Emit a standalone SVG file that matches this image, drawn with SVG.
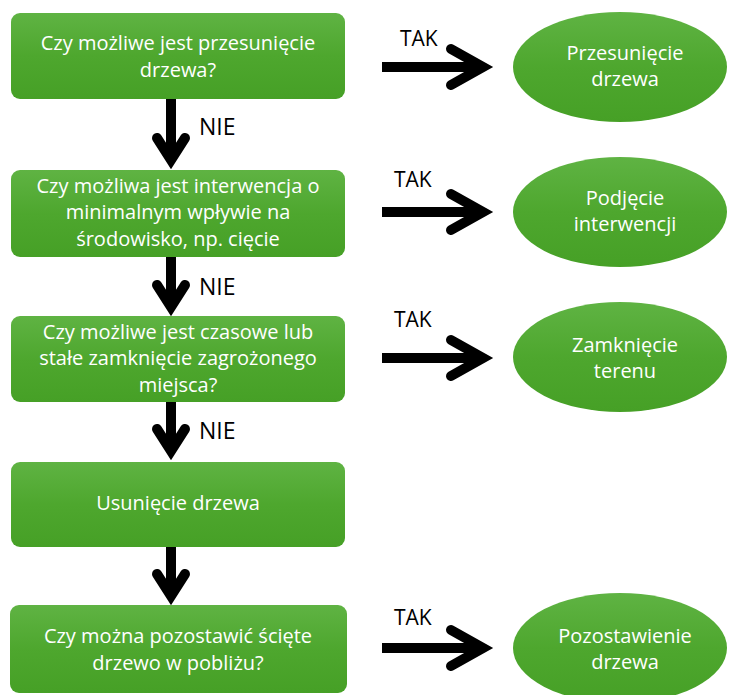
<svg xmlns="http://www.w3.org/2000/svg" width="729" height="695" viewBox="0 0 729 695">
<defs>
<linearGradient id="g" x1="0" y1="0" x2="0" y2="1">
<stop offset="0" stop-color="#5fb343"/>
<stop offset="0.5" stop-color="#4ea72e"/>
<stop offset="1" stop-color="#46a026"/>
</linearGradient>
<style>
.box{fill:url(#g);}
.ell{fill:url(#g);}
.t{font-family:"Open Sans","Liberation Sans",sans-serif;font-size:20px;fill:#ffffff;text-anchor:middle;}
.lbl{font-family:"Open Sans","Liberation Sans",sans-serif;font-size:21px;fill:#000000;}
.nie{font-size:23px;}
.shaft{stroke:#000;stroke-width:10;fill:none;stroke-linecap:butt;}
.head{stroke:#000;stroke-width:10;fill:none;stroke-linecap:round;stroke-linejoin:miter;}
</style>
</defs>
<rect width="729" height="695" fill="#ffffff"/>

<g id="q1">
<rect class="box" x="11" y="13" width="334" height="86" rx="9"/>
<text class="t" x="178" y="50">Czy możliwe jest przesunięcie</text>
<text class="t" x="178" y="77">drzewa?</text>
</g>
<g id="q2">
<rect class="box" x="11" y="170" width="334" height="87" rx="9"/>
<text class="t" x="178" y="193">Czy możliwa jest interwencja o</text>
<text class="t" x="178" y="219">minimalnym wpływie na</text>
<text class="t" x="178" y="246">środowisko, np. cięcie</text>
</g>
<g id="q3">
<rect class="box" x="11" y="316" width="334" height="86" rx="9"/>
<text class="t" x="178" y="339">Czy możliwe jest czasowe lub</text>
<text class="t" x="178" y="365">stałe zamknięcie zagrożonego</text>
<text class="t" x="178" y="392">miejsca?</text>
</g>
<g id="remove">
<rect class="box" x="11" y="462" width="334" height="85" rx="9"/>
<text class="t" x="178" y="510">Usunięcie drzewa</text>
</g>
<g id="q4">
<rect class="box" x="10" y="605" width="337" height="88" rx="9"/>
<text class="t" x="178" y="643">Czy można pozostawić ścięte</text>
<text class="t" x="178" y="670">drzewo w pobliżu?</text>
</g>

<g id="r1">
<ellipse class="ell" cx="620" cy="67" rx="107" ry="55"/>
<text class="t" x="625" y="60">Przesunięcie</text>
<text class="t" x="625" y="86">drzewa</text>
</g>
<g id="r2">
<ellipse class="ell" cx="620" cy="212" rx="107" ry="55"/>
<text class="t" x="625" y="205">Podjęcie</text>
<text class="t" x="625" y="231">interwencji</text>
</g>
<g id="r3">
<ellipse class="ell" cx="620" cy="357" rx="107" ry="55"/>
<text class="t" x="625" y="352">Zamknięcie</text>
<text class="t" x="625" y="378">terenu</text>
</g>
<g id="r4">
<ellipse class="ell" cx="620" cy="648" rx="107" ry="55"/>
<text class="t" x="625" y="643">Pozostawienie</text>
<text class="t" x="625" y="669">drzewa</text>
</g>

<g id="connectors">
<path class="shaft" d="M171 99 V160"/>
<path class="head" d="M157 138 L171 160 L185 138"/>
<text class="lbl nie" x="199" y="135">NIE</text>

<path class="shaft" d="M171 257 V307"/>
<path class="head" d="M157 285 L171 307 L185 285"/>
<text class="lbl nie" x="199" y="295">NIE</text>

<path class="shaft" d="M171 402 V451"/>
<path class="head" d="M157 429 L171 451 L185 429"/>
<text class="lbl nie" x="199" y="439">NIE</text>

<path class="shaft" d="M171 547 V596"/>
<path class="head" d="M157 574 L171 596 L185 574"/>

<path class="shaft" d="M382 67 H483"/>
<path class="head" d="M451 49 L483 67 L451 85"/>
<text class="lbl" x="400" y="46">TAK</text>

<path class="shaft" d="M382 212 H483"/>
<path class="head" d="M451 194 L483 212 L451 230"/>
<text class="lbl" x="394" y="187">TAK</text>

<path class="shaft" d="M382 358 H483"/>
<path class="head" d="M451 340 L483 358 L451 376"/>
<text class="lbl" x="394" y="327">TAK</text>

<path class="shaft" d="M382 648 H483"/>
<path class="head" d="M451 630 L483 648 L451 666"/>
<text class="lbl" x="394" y="625">TAK</text>
</g>
</svg>
